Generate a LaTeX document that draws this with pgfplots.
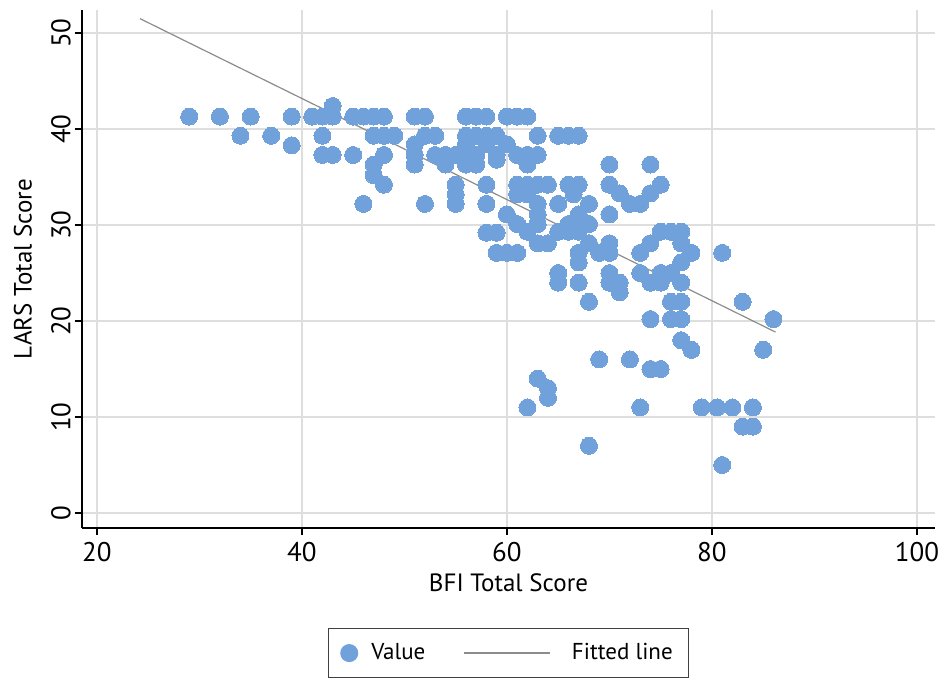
\documentclass[border=0pt]{standalone}
\usepackage{pgfplots}
\pgfplotsset{compat=1.18}
\usepackage{fontspec}
\setmainfont{PT Sans}
\definecolor{ptcol}{RGB}{112,161,219}
\definecolor{gridc}{RGB}{222,222,222}
\definecolor{fitc}{RGB}{140,140,140}
\begin{document}
\begin{tikzpicture}
\begin{axis}[
  scale only axis,
  width=426.5pt, height=259pt,
  xmin=18.54, xmax=101.76,
  ymin=-1.56, ymax=52.4,
  xtick={20,40,60,80,100},
  ytick={0,10,20,30,40,50},
  axis x line*=bottom,
  axis y line*=left,
  axis line style={line width=0.75pt, black, -},
  tick align=outside,
  major tick length=3.5pt,
  tick style={line width=0.6pt, black},
  grid=major,
  major grid style={gridc, line width=0.6pt},
  /pgf/number format/assume math mode=true,
  ticklabel style={font=\fontsize{13.5}{15}\selectfont},
  yticklabel style={rotate=90, anchor=south, inner sep=0pt, yshift=2pt},
  xticklabel style={inner sep=3.5pt},
  xlabel={BFI Total Score},
  ylabel={LARS Total Score},
  label style={font=\fontsize{12.5}{14}\selectfont},
  xlabel style={yshift=1pt},
  ylabel style={yshift=6pt},
  legend style={at={(0.5,-0.193)}, anchor=north, draw=black!75, line width=0.5pt,
    font=\fontsize{11.5}{13}\selectfont, legend columns=2,
    /tikz/every even column/.append style={column sep=17pt},
    inner xsep=6pt, inner ysep=5.5pt},
  legend cell align=left,
  clip=false,
]
\addplot[only marks, mark=*, color=ptcol, mark size=4.25pt, mark options={draw=ptcol, fill=ptcol, line width=0pt},
  legend image code/.code={\fill[ptcol] (0pt,0pt) circle (4.25pt); \path[draw=none] (-4.25pt,0pt) -- (9pt,0pt);}]
table[row sep=\\]{
x y\\
43 42.4\\
29 41.3\\ 32 41.3\\ 35 41.3\\ 39 41.3\\ 41 41.3\\ 42 41.3\\ 43 41.3\\ 45 41.3\\ 46 41.3\\ 47 41.3\\ 48 41.3\\
51 41.3\\ 52 41.3\\ 56 41.3\\ 57 41.3\\ 58 41.3\\ 60 41.3\\ 61 41.3\\ 62 41.3\\
34 39.3\\ 37 39.3\\ 42 39.3\\ 47 39.3\\ 48 39.3\\ 49 39.3\\ 52 39.3\\ 53 39.3\\ 56 39.3\\ 57 39.3\\ 58 39.3\\ 59 39.3\\ 63 39.3\\ 65 39.3\\ 66 39.3\\ 67 39.3\\
39 38.3\\ 51 38.4\\ 56 38.4\\ 58 38.4\\ 60 38.4\\
42 37.3\\ 43 37.3\\ 45 37.3\\ 48 37.3\\ 51 37.3\\ 53 37.3\\ 54 37.3\\ 55 37.3\\ 56 37.3\\ 57 37.3\\ 59 37.3\\ 61 37.3\\ 62 37.3\\ 63 37.3\\
47 36.3\\ 51 36.3\\ 54 36.3\\ 56 36.3\\ 57 36.3\\ 59 36.8\\ 62 36.3\\ 70 36.3\\ 74 36.3\\
47 35.2\\
48 34.2\\ 55 34.2\\ 58 34.2\\ 61 34.2\\ 62 34.2\\ 63 34.2\\ 64 34.2\\ 66 34.2\\ 67 34.2\\ 70 34.2\\ 75 34.2\\
55 33.2\\ 61 33.2\\ 62 33.2\\ 66.5 33.2\\ 71 33.3\\ 74 33.3\\
46 32.2\\ 52 32.2\\ 55 32.2\\ 58 32.2\\ 63 32.2\\ 65 32.2\\ 68 32.2\\ 72 32.2\\ 73 32.2\\
60 31.1\\ 63 31.1\\ 67 31.1\\ 70 31.1\\
61 30.1\\ 63 30.1\\ 66 30.1\\ 68 30.1\\
58 29.2\\ 59 29.2\\ 62 29.3\\ 65 29.3\\ 66 29.3\\ 67 29.3\\ 75 29.3\\ 76 29.3\\ 77 29.3\\
63 28.1\\ 64 28.1\\ 68 28.1\\ 70 28.1\\ 74 28.1\\ 77 28.1\\
59 27.1\\ 60 27.1\\ 61 27.1\\ 67 27.1\\ 69 27.1\\ 70 27.1\\ 73 27.1\\ 78 27.1\\ 81 27.1\\
67 26.1\\ 77 26.1\\
65 25\\ 70 25\\ 73 25\\ 75 25\\ 76 25\\
65 24\\ 67 24\\ 70 24\\ 71 24\\ 74 24\\ 75 24\\ 77 24\\
71 23\\
68 22\\ 76 22\\ 77 22\\ 83 22\\
74 20.2\\ 76 20.2\\ 77 20.2\\ 86 20.2\\
77 18\\
78 17\\ 85 17\\
69 16\\ 72 16\\
74 15\\ 75 15\\
63 14\\
64 13\\
64 12\\
62 11\\ 73 11\\ 79 11\\ 80.5 11\\ 82 11\\ 84 11\\
83 9\\ 84 9\\
68 7\\
81 5\\
};
\addlegendentry{Value}
\addplot[fitc, line width=0.6pt, no marks,
  legend image code/.code={\draw[fitc, line width=0.6pt] (0pt,0pt) -- (43pt,0pt); \path[draw=none] (0pt,0pt) -- (52pt,0pt);}]
coordinates {(24.2,51.5) (86.2,18.85)};
\addlegendentry{Fitted line}
\end{axis}
\path (current axis.south west) ++(-41pt,-74.5pt) rectangle ++(473pt,338.5pt);
\end{tikzpicture}
\end{document}
